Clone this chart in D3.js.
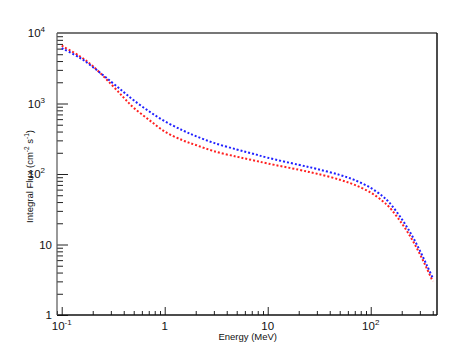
<!DOCTYPE html>
<html>
<head>
<meta charset="utf-8">
<script src="https://cdn.jsdelivr.net/npm/d3@7"></script>
<style>
  body { margin: 0; background: #fff; }
  svg { display: block; font-family: "Liberation Sans", Arial, sans-serif; }
</style>
</head>
<body>
<div id="app"></div>
<script>
// energies (MeV) where the curves were read
const ENERGY = [0.1, 0.15, 0.2, 0.3, 0.4, 0.5, 0.7, 1, 1.5, 2, 3, 5, 7, 10, 20, 30, 50, 70, 100, 130, 150, 200, 250, 300, 350, 400];
// integral flux, red curve
const FLUX_RED = [6600, 4670, 3400, 1900, 1210, 870, 590, 400, 300, 258, 211, 176, 158, 141, 115, 101, 83, 70, 54.5, 41.5, 34.4, 20, 12, 7.3, 4.6, 3.0];
// integral flux, blue curve
const FLUX_BLUE = [6100, 4450, 3300, 2050, 1450, 1110, 780, 560, 415, 345, 276, 223, 196, 170, 135, 118, 97, 82, 63.5, 48.5, 40, 23, 13.6, 8.2, 5.1, 3.35];

const X_MAJOR = [0.1, 1, 10, 100];
const X_LABELS = [['10', '-1'], ['1', ''], ['10', ''], ['10', '2']];
const Y_MAJOR = [1, 10, 100, 1000, 10000];
const Y_LABELS = [['1', ''], ['10', ''], ['10', '2'], ['10', '3'], ['10', '4']];

const width = 463, height = 353;
const margin = {top: 33, left: 57, right: 26, bottom: 38};

const svg = d3.select('#app').append('svg')
  .attr('width', width)
  .attr('height', height);

const x = d3.scaleLog()
  .domain([0.09, 440])
  .range([margin.left, width - margin.right]);

const y = d3.scaleLog()
  .domain([1, 10000])
  .range([height - margin.bottom, margin.top]);

// minor ticks 2..9 for each decade
function minorTicks(lo, hi) {
  const out = [];
  for (let d = lo; d < hi; d *= 10) {
    for (let k = 2; k <= 9; k++) {
      const v = d * k;
      if (v <= hi) out.push(v);
    }
  }
  return out;
}
const xMinor = minorTicks(0.01, 440).filter(v => v >= 0.09 && v <= 440);
const yMinor = minorTicks(1, 10000);

// frame
const x0 = margin.left, x1 = width - margin.right;
const y0 = margin.top, y1 = height - margin.bottom;

// x axis ticks (pointing up into the plot)
const xAxisG = svg.append('g')
  .attr('transform', `translate(0, ${y1})`);
xAxisG.append('g')
  .call(d3.axisBottom(x).tickValues(xMinor).tickSize(-4).tickFormat(''));
xAxisG.append('g')
  .call(d3.axisBottom(x).tickValues(X_MAJOR).tickSize(-8).tickFormat(''));
xAxisG.selectAll('.domain').remove();

// y axis ticks (pointing right into the plot)
const yAxisG = svg.append('g')
  .attr('transform', `translate(${x0}, 0)`);
yAxisG.append('g')
  .call(d3.axisLeft(y).tickValues(yMinor).tickSize(-6).tickFormat(''));
yAxisG.append('g')
  .call(d3.axisLeft(y).tickValues(Y_MAJOR).tickSize(-11).tickFormat(''));
yAxisG.selectAll('.domain').remove();
svg.selectAll('.tick line').attr('stroke', '#222').attr('stroke-width', 1);

// frame lines
svg.append('line').attr('x1', x0).attr('x2', x1).attr('y1', y0).attr('y2', y0)
  .attr('stroke', '#777').attr('stroke-width', 2);
svg.append('line').attr('x1', x1).attr('x2', x1).attr('y1', y0).attr('y2', y1)
  .attr('stroke', '#111').attr('stroke-width', 1.5);
svg.append('line').attr('x1', x0).attr('x2', x1).attr('y1', y1).attr('y2', y1)
  .attr('stroke', '#111').attr('stroke-width', 1.5);
svg.append('line').attr('x1', x0).attr('x2', x0).attr('y1', y0).attr('y2', y1)
  .attr('stroke', '#555').attr('stroke-width', 1.2);

// x tick labels
const xl = svg.append('g').selectAll('text')
  .data(X_MAJOR)
  .join('text')
  .attr('x', d => x(d))
  .attr('y', y1 + 15)
  .attr('text-anchor', 'middle')
  .style('font-size', '11.5px')
  .style('fill', '#111');
xl.append('tspan').text((d, i) => X_LABELS[i][0]);
xl.append('tspan').text((d, i) => X_LABELS[i][1])
  .attr('dy', -5).style('font-size', '8px');

// y tick labels
const yl = svg.append('g').selectAll('text')
  .data(Y_MAJOR)
  .join('text')
  .attr('x', (d, i) => x0 - (Y_LABELS[i][1] ? 12 : 5))
  .attr('y', d => y(d) + 4)
  .attr('text-anchor', 'end')
  .style('font-size', '11.5px')
  .style('fill', '#111');
yl.append('tspan').text((d, i) => Y_LABELS[i][0]);
yl.filter((d, i) => Y_LABELS[i][1])
  .append('tspan').text(d => Y_LABELS[Y_MAJOR.indexOf(d)][1])
  .attr('dy', -5).style('font-size', '8px');

// axis titles
svg.append('text')
  .attr('x', 277)
  .attr('y', 340)
  .attr('text-anchor', 'end')
  .style('font-size', '9.5px')
  .style('fill', '#111')
  .text('Energy (MeV)');

const yt = svg.append('text')
  .attr('transform', `translate(33, 130) rotate(-90)`)
  .attr('text-anchor', 'end')
  .style('font-size', '9.5px')
  .style('fill', '#111');
yt.append('tspan').text('Integral Flux (cm');
yt.append('tspan').text('-2').attr('dy', -4).style('font-size', '6.5px');
yt.append('tspan').text(' s').attr('dy', 4);
yt.append('tspan').text('-1').attr('dy', -4).style('font-size', '6.5px');
yt.append('tspan').text(')').attr('dy', 4);

// curves
const line = d3.line()
  .x(d => x(d[0]))
  .y(d => y(d[1]))
  .curve(d3.curveCatmullRom.alpha(0.5));

const series = [
  {values: FLUX_RED, color: '#ff2020'},
  {values: FLUX_BLUE, color: '#2020ff'}
];

svg.append('g').selectAll('path')
  .data(series)
  .join('path')
  .attr('d', s => line(ENERGY.map((e, i) => [e, s.values[i]])))
  .attr('fill', 'none')
  .attr('stroke', s => s.color)
  .attr('stroke-width', 2)
  .attr('stroke-dasharray', '2,2');
</script>
</body>
</html>
